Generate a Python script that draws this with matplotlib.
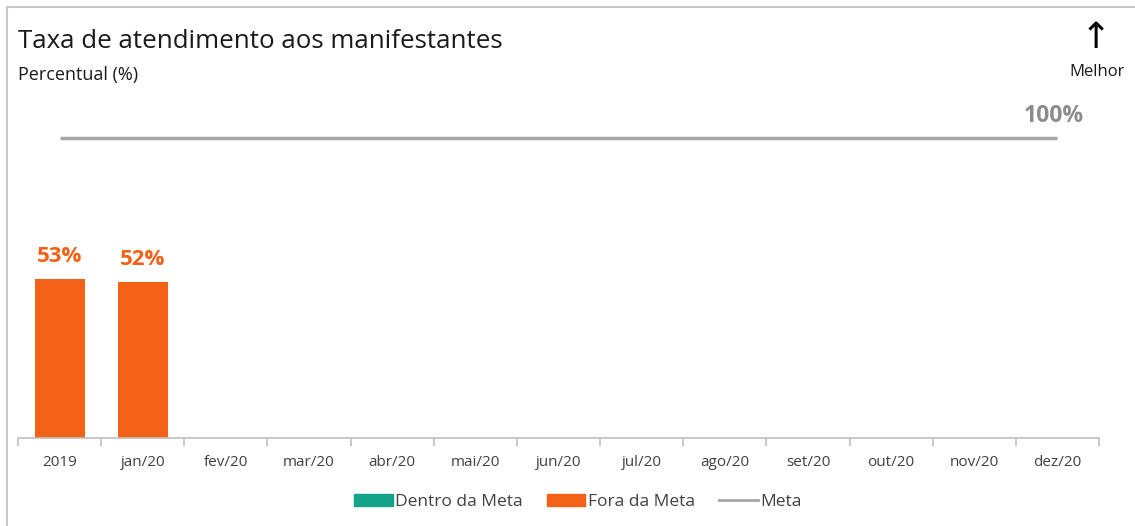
import matplotlib
matplotlib.use("Agg")
import matplotlib.pyplot as plt
from matplotlib.patches import Patch
from matplotlib.lines import Line2D

categories = ["2019", "jan/20", "fev/20", "mar/20", "abr/20", "mai/20", "jun/20",
              "jul/20", "ago/20", "set/20", "out/20", "nov/20", "dez/20"]
dentro = [None] * 13
fora = [53, 52] + [None] * 11
meta = [100] * 13

ORANGE = "#F26115"
TEAL = "#12A38A"
GRAY = "#A6A6A6"

plt.rcParams['font.family'] = ['Open Sans', 'DejaVu Sans']

W, H = 1135, 526
fig = plt.figure(figsize=(W / 100, H / 100), dpi=100)

def fx(px):
    return px / W

def fy(py):
    return 1 - py / H

ax = fig.add_axes([fx(18), fy(438), fx(1099) - fx(18), fy(100) - fy(438)])
x = list(range(len(categories)))

fx_vals = [v if v is not None else 0 for v in fora]
dx_vals = [v if v is not None else 0 for v in dentro]
ax.bar(x, dx_vals, width=0.6, color=TEAL)
ax.bar(x, fx_vals, width=0.6, color=ORANGE)
for i, v in enumerate(fora):
    if v is not None:
        ax.text(i, v + 4, f"{v}%", ha="center", va="bottom", color=ORANGE,
                fontsize=16, fontweight="bold")

ax.plot(x, meta, color=GRAY, lw=2.5, solid_capstyle="butt")
ax.text(x[-1] - 0.04, meta[-1] + 3.2, f"{meta[-1]}%", ha="center", va="bottom",
        color="#8C8C8C", fontsize=16.5, fontweight="bold")

ax.set_xlim(-0.5, len(categories) - 0.5)
ax.set_ylim(0, (438 - 100) / 3)
for s in ["top", "right", "left"]:
    ax.spines[s].set_visible(False)
ax.spines["bottom"].set_color("#BFBFBF")
ax.spines["bottom"].set_linewidth(1.2)
ax.set_yticks([])
ax.set_xticks(x)
ax.set_xticklabels(categories, fontsize=11, color="#404040")
ax.tick_params(axis="x", length=0, pad=12)
ax.set_xticks([i - 0.5 for i in range(len(categories) + 1)], minor=True)
ax.tick_params(axis="x", which="minor", length=6, color="#BFBFBF", width=1.2)

fig.text(fx(18), fy(42), "Taxa de atendimento aos manifestantes", fontsize=18.6,
         color="#1a1a1a", va="center", ha="left")
fig.text(fx(18), fy(75), "Percentual (%)", fontsize=13, color="#1a1a1a",
         va="center", ha="left")
fig.text(fx(1096), fy(38), "\u2191", fontsize=26, color="black", ha="center",
         va="center", family=["DejaVu Sans"])
fig.text(fx(1097), fy(72), "Melhor", fontsize=12, color="#1a1a1a",
         ha="center", va="center")

handles = [Patch(color=TEAL, label="Dentro da Meta"),
           Patch(color=ORANGE, label="Fora da Meta"),
           Line2D([0], [0], color=GRAY, lw=2, label="Meta")]
fig.legend(handles=handles, loc="center", bbox_to_anchor=(fx(578), fy(502)),
           ncol=3, frameon=False, fontsize=12.5, handlelength=2.2,
           handleheight=0.7, handletextpad=0.15, columnspacing=1.4,
           labelcolor="#404040")

# outer frame (left and top)
fig.add_artist(Line2D([fx(7), fx(7)], [fy(7), 0], color="#C8C8C8", lw=1.5))
fig.add_artist(Line2D([fx(7), 1], [fy(7), fy(7)], color="#C8C8C8", lw=1.5))

fig.savefig("out.png", dpi=100, facecolor="white")
